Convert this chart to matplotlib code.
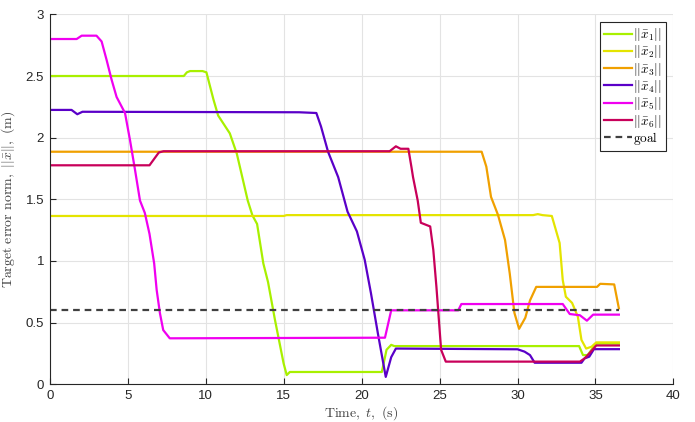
import matplotlib
matplotlib.use("Agg")
import matplotlib.pyplot as plt

plt.rcParams['mathtext.fontset'] = 'cm'
plt.rcParams['font.family'] = ['Liberation Sans', 'DejaVu Sans']

# ---- data ----
t1 = [0, 8.6, 8.8, 9.0, 9.8, 10.05, 10.5, 10.8, 11.55, 12.0, 12.7, 13.0, 13.3, 13.7, 14.0, 14.45, 15.0, 15.2, 15.4, 21.3, 21.6, 21.9, 22.1, 33.95, 34.2, 34.5, 34.8, 35.05, 36.5]
v1 = [2.50, 2.50, 2.53, 2.54, 2.54, 2.53, 2.31, 2.18, 2.035, 1.87, 1.49, 1.37, 1.30, 0.98, 0.83, 0.52, 0.17, 0.075, 0.10, 0.10, 0.28, 0.32, 0.31, 0.31, 0.237, 0.237, 0.29, 0.33, 0.33]

t2 = [0, 15.0, 15.2, 31.0, 31.3, 31.6, 32.2, 32.7, 32.9, 33.1, 33.5, 33.87, 34.1, 34.4, 34.75, 35.05, 36.5]
v2 = [1.365, 1.365, 1.372, 1.372, 1.38, 1.372, 1.365, 1.146, 0.846, 0.71, 0.66, 0.548, 0.36, 0.29, 0.305, 0.34, 0.34]

t3 = [0, 27.7, 28.0, 28.3, 28.75, 29.2, 29.5, 29.8, 30.1, 30.5, 30.8, 31.2, 35.1, 35.3, 36.2, 36.5]
v3 = [1.886, 1.886, 1.765, 1.52, 1.373, 1.17, 0.90, 0.58, 0.45, 0.54, 0.68, 0.79, 0.79, 0.815, 0.81, 0.616]

t4 = [0, 1.4, 1.77, 2.1, 16.0, 17.1, 17.4, 17.85, 18.5, 19.1, 19.7, 20.2, 20.6, 21.05, 21.55, 21.9, 22.2, 30.0, 30.45, 30.8, 31.1, 34.1, 34.3, 34.6, 34.9, 36.5]
v4 = [2.225, 2.225, 2.19, 2.21, 2.206, 2.20, 2.09, 1.886, 1.68, 1.40, 1.24, 1.01, 0.74, 0.41, 0.06, 0.22, 0.29, 0.284, 0.265, 0.237, 0.175, 0.175, 0.21, 0.224, 0.285, 0.285]

t5 = [0, 1.73, 2.05, 3.0, 3.33, 3.65, 3.97, 4.29, 4.83, 5.15, 5.47, 5.79, 6.1, 6.4, 6.7, 6.86, 7.07, 7.28, 7.7, 21.5, 21.9, 22.1, 26.2, 26.4, 32.9, 33.35, 34.0, 34.45, 34.85, 36.5]
v5 = [2.80, 2.80, 2.827, 2.827, 2.78, 2.63, 2.47, 2.33, 2.20, 1.98, 1.74, 1.49, 1.39, 1.22, 0.98, 0.765, 0.576, 0.44, 0.373, 0.378, 0.60, 0.60, 0.60, 0.651, 0.651, 0.57, 0.56, 0.516, 0.565, 0.565]

t6 = [0, 6.4, 7.0, 7.3, 21.8, 22.2, 22.5, 23.0, 23.2, 23.3, 23.6, 23.8, 24.4, 24.6, 24.8, 25.1, 25.4, 34.0, 34.3, 34.6, 35.05, 36.5]
v6 = [1.776, 1.776, 1.88, 1.89, 1.89, 1.93, 1.91, 1.91, 1.76, 1.68, 1.49, 1.31, 1.28, 1.09, 0.79, 0.28, 0.184, 0.184, 0.21, 0.25, 0.315, 0.315]

goal_t = [0, 36.5]
goal_v = [0.6, 0.6]

series = [(t1, v1), (t2, v2), (t3, v3), (t4, v4), (t5, v5), (t6, v6)]
labels = [r'$||\bar{x}_1||$', r'$||\bar{x}_2||$', r'$||\bar{x}_3||$',
          r'$||\bar{x}_4||$', r'$||\bar{x}_5||$', r'$||\bar{x}_6||$']
colors = ['#a8f000', '#e4e400', '#f0a000', '#5a00c8', '#f000f0', '#c8005a']

fig = plt.figure(figsize=(6.95, 4.22), dpi=100)
ax = fig.add_axes([0.0715, 0.0893, 0.8975, 0.8767])

for (t, v), lab, c in zip(series, labels, colors):
    ax.plot(t, v, color=c, lw=1.6, label=lab, solid_joinstyle='round')
ax.plot(goal_t, goal_v, color='#404040', lw=1.6, ls=(0, (3, 2.2)), label=r'$\mathrm{goal}$')

ax.set_xlim(0, 40)
ax.set_ylim(0, 3)
ax.set_xticks([0, 5, 10, 15, 20, 25, 30, 35, 40])
ax.set_yticks([0, 0.5, 1, 1.5, 2, 2.5, 3])
ax.set_yticklabels(['0', '0.5', '1', '1.5', '2', '2.5', '3'])
ax.grid(True, color='#e3e3e3', lw=0.8)
ax.set_axisbelow(True)
for s in ['top', 'right']:
    ax.spines[s].set_visible(False)
for s in ['left', 'bottom']:
    ax.spines[s].set_color('#262626')
    ax.spines[s].set_linewidth(0.8)
ax.tick_params(direction='in', length=4, width=0.8, colors='#262626', labelsize=9.5, pad=4)

ax.set_xlabel(r'$\mathrm{Time,}\ t\mathrm{,\ (s)}$', fontsize=10, color='#404040', labelpad=2)
ax.set_ylabel(r'$\mathrm{Target\ error\ norm,}\ ||\bar{x}||\mathrm{,\ (m)}$', fontsize=10, color='#404040', labelpad=6)

leg = ax.legend(loc='upper right', fontsize=9.5, handlelength=2.1, handletextpad=0.1,
                labelspacing=0.02, borderpad=0.3, borderaxespad=0.6,
                fancybox=False, framealpha=1, edgecolor='#262626')
leg.get_frame().set_linewidth(0.8)

fig.savefig('out.png', dpi=100)
